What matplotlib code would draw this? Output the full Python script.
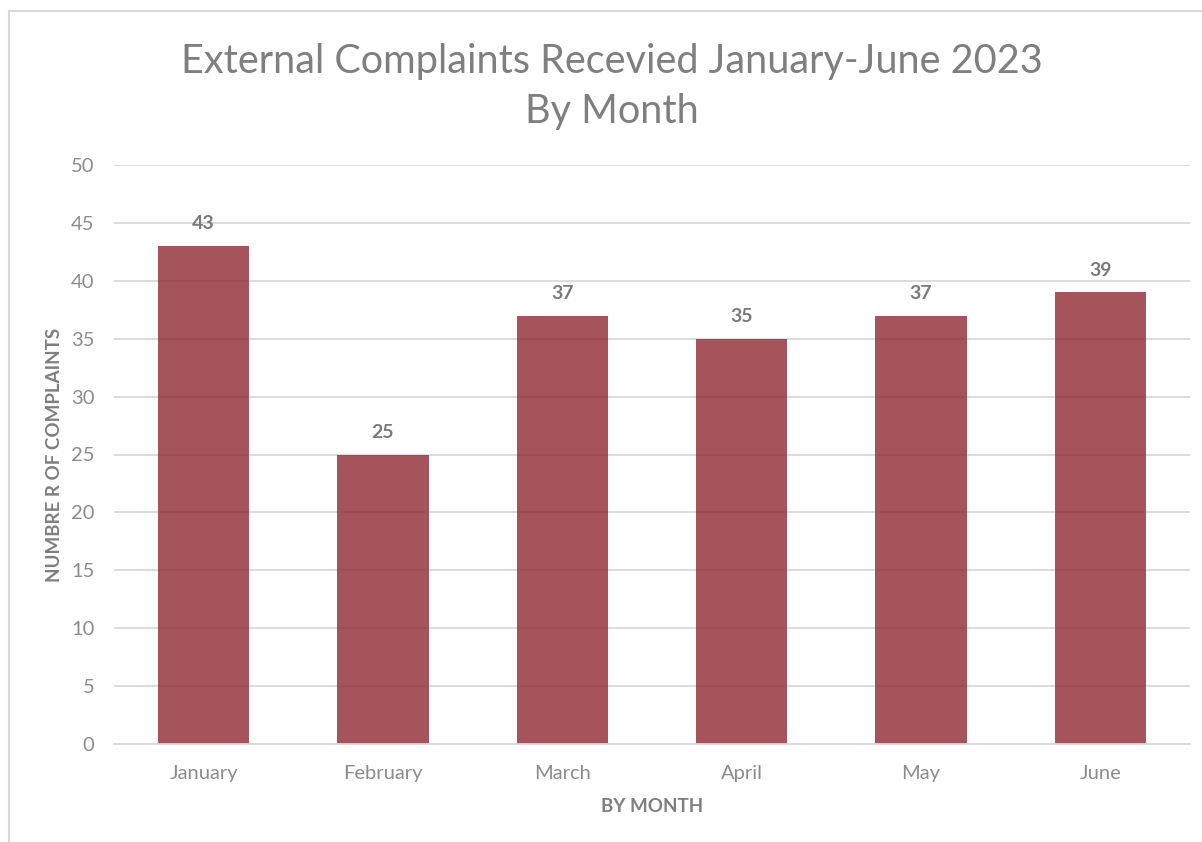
import matplotlib.pyplot as plt
from matplotlib.patches import Rectangle

months = ["January", "February", "March", "April", "May", "June"]
complaints = [43, 25, 37, 35, 37, 39]
y_ticks = [0, 5, 10, 15, 20, 25, 30, 35, 40, 45, 50]

plt.rcParams['font.family'] = ['Lato', 'DejaVu Sans']

fig = plt.figure(figsize=(12.02, 8.42), dpi=100)
W, H = 1202, 842

# chart border (only left/top are visible in the crop)
fig.patches.append(Rectangle((9 / W, -0.1), 1.2, 1 - 11 / H + 0.1, transform=fig.transFigure,
                             fill=False, edgecolor='#d9d9d9', linewidth=1.5))

ax = fig.add_axes([114 / W, 1 - 744 / H, (1190 - 114) / W, (744 - 165) / H])

x = list(range(len(months)))
bars = ax.bar(x, complaints, width=0.51, color='#8e2931', alpha=0.8, zorder=2)

for xi, v in zip(x, complaints):
    ax.annotate(str(v), (xi, v), xytext=(0, 16), textcoords='offset points',
                ha='center', va='center', fontsize=14, fontweight='bold', color='#7a7a7a')

ax.set_xlim(-0.5, len(months) - 0.5)
ax.set_ylim(0, 50)
ax.set_yticks(y_ticks)
ax.set_xticks(x)
ax.set_xticklabels(months)
ax.yaxis.grid(True, color='#d9d9d9', linewidth=1.3, zorder=0)
ax.set_axisbelow(True)
for s in ['top', 'right', 'left']:
    ax.spines[s].set_visible(False)
ax.spines['bottom'].set_color('#d9d9d9')
ax.spines['bottom'].set_linewidth(1.3)
ax.tick_params(axis='both', length=0, labelsize=14.5, labelcolor='#8c8c8c')
ax.tick_params(axis='y', pad=14)
ax.tick_params(axis='x', pad=15)

ax.set_ylabel("NUMBRE R OF COMPLAINTS", fontsize=13.5, fontweight='bold', color='#7f7f7f', labelpad=6)
ax.set_xlabel("BY MONTH", fontsize=13.5, fontweight='bold', color='#7f7f7f', labelpad=12)

fig.text(612 / W, 1 - 61 / H, "External Complaints Recevied January-June 2023",
         ha='center', va='center', fontsize=28.5, color='#7f7f7f')
fig.text(612 / W, 1 - 111 / H, "By Month", ha='center', va='center', fontsize=28.5, color='#7f7f7f')

fig.savefig("out.png", dpi=100)
